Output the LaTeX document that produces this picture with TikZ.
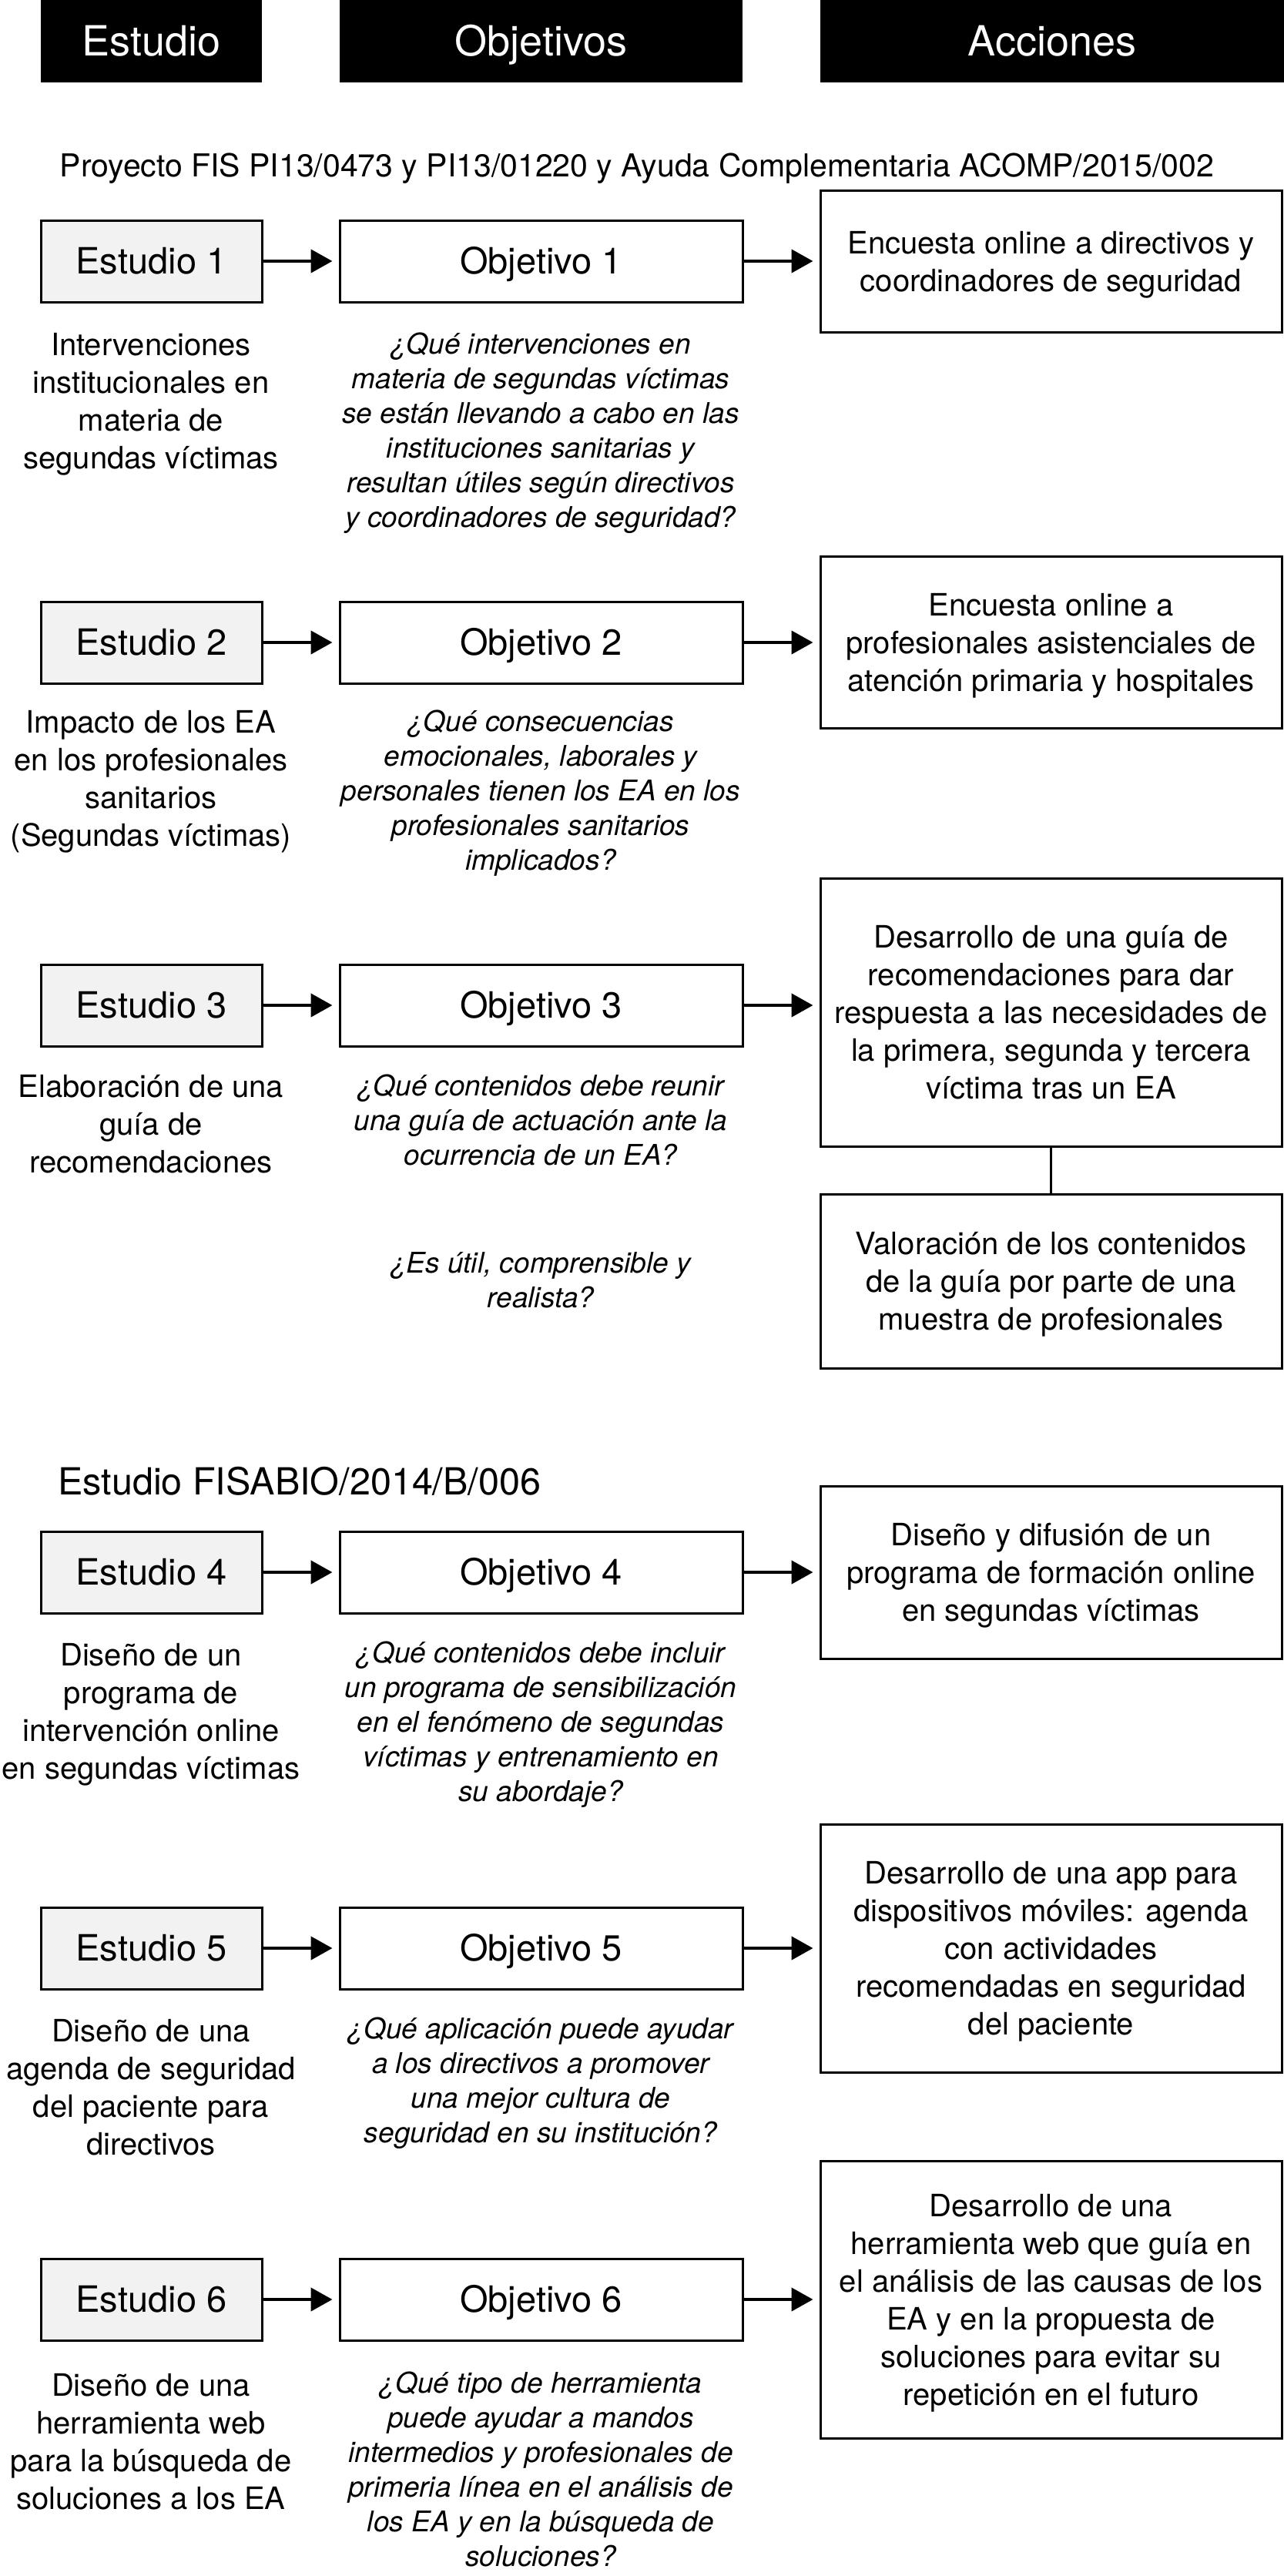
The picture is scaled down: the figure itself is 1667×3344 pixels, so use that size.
\documentclass[tikz,border=0pt]{standalone}
\usepackage{fontspec}
\setmainfont{TeX Gyre Heros}
\usetikzlibrary{arrows.meta}
\definecolor{estfill}{RGB}{242,242,242}
\tikzset{
 hdr/.style={fill=black, text=white, minimum height=107pt, inner sep=0pt, text height=38.5pt, text depth=0pt, font=\fontsize{54}{60}\selectfont},
 est/.style={draw, line width=3pt, fill=estfill, minimum width=287pt, minimum height=106pt, inner sep=0pt, text height=33.8pt, text depth=0pt, font=\fontsize{47}{56}\selectfont},
 obj/.style={draw, line width=3pt, fill=white, minimum width=523pt, minimum height=106pt, inner sep=0pt, text height=33.8pt, text depth=0pt, font=\fontsize{47}{56}\selectfont},
 act/.style={draw, line width=3pt, minimum width=599pt, align=center, inner sep=0pt, text depth=0pt, font=\fontsize{40}{49}\selectfont},
 desc/.style={align=center, anchor=north, inner sep=0pt, font=\fontsize{40}{49}\selectfont},
 ques/.style={align=center, anchor=north, inner sep=0pt, font=\fontsize{37}{45}\selectfont\itshape},
 sub/.style={inner sep=0pt},
 arr/.style={line width=4.5pt, -{Triangle[length=28pt,width=30pt]}, shorten >=8pt},
 link/.style={line width=3pt},
}
\begin{document}
\begin{tikzpicture}[x=1pt,y=-1pt]
\useasboundingbox (0,0) rectangle (1667,3344);
% headers
\node[hdr, minimum width=287pt] (h1) at (196.5,53.5) {Estudio};
\node[hdr, minimum width=523pt] (h2) at (702.5,53.5) {Objetivos};
\node[hdr, minimum width=602pt] (h3) at (1366,53.5) {Acciones};
% subtitle 1
\node[sub, font=\fontsize{41}{48}\selectfont] (s1) at (827,219) {Proyecto FIS PI13/0473 y PI13/01220 y Ayuda Complementaria ACOMP/2015/002};
% row 1
\node[est] (e1) at (196.5,339) {Estudio 1};
\node[obj] (o1) at (702.5,339) {Objetivo 1};
\node[act, minimum height=184pt] (a1) at (1364.5,339) {Encuesta online a directivos y\\coordinadores de seguridad};
\draw[arr] (e1.east) -- (o1.west);
\draw[arr] (o1.east) -- (o1.east -| a1.west);
\node[desc] (d1) at (196,432) {Intervenciones\\institucionales en\\materia de\\segundas víctimas};
\node[ques] (q1) at (702,432) {¿Qué intervenciones en\\materia de segundas víctimas\\se están llevando a cabo en las\\instituciones sanitarias y\\resultan útiles según directivos\\y coordinadores de seguridad?};
% row 2
\node[est] (e2) at (196.5,834) {Estudio 2};
\node[obj] (o2) at (702.5,834) {Objetivo 2};
\node[act, minimum height=223pt] (a2) at (1364.5,834) {Encuesta online a\\profesionales asistenciales de\\atención primaria y hospitales};
\draw[arr] (e2.east) -- (o2.west);
\draw[arr] (o2.east) -- (o2.east -| a2.west);
\node[desc] (d2) at (196,922) {Impacto de los EA\\en los profesionales\\sanitarios\\(Segundas víctimas)};
\node[ques] (q2) at (702,922) {¿Qué consecuencias\\emocionales, laborales y\\personales tienen los EA en los\\profesionales sanitarios\\implicados?};
% row 3
\node[est] (e3) at (196.5,1305) {Estudio 3};
\node[obj] (o3) at (702.5,1305) {Objetivo 3};
\node[act, minimum height=348pt] (a3) at (1364.5,1314) {Desarrollo de una guía de\\recomendaciones para dar\\respuesta a las necesidades de\\la primera, segunda y tercera\\víctima tras un EA};
\node[act, minimum height=226pt] (a3b) at (1364.5,1663) {Valoración de los contenidos\\de la guía por parte de una\\muestra de profesionales};
\draw[arr] (e3.east) -- (o3.west);
\draw[arr] (o3.east) -- (o3.east -| a3.west);
\draw[link] (a3.south) -- (a3b.north);
\node[desc] (d3) at (196,1395) {Elaboración de una\\guía de\\recomendaciones};
\node[ques] (q3) at (702,1395) {¿Qué contenidos debe reunir\\una guía de actuación ante la\\ocurrencia de un EA?};
\node[ques] (q3b) at (702,1625) {¿Es útil, comprensible y\\realista?};
% subtitle 2
\node[sub, anchor=west, font=\fontsize{48.5}{56}\selectfont] (s2) at (75,1923) {Estudio FISABIO/2014/B/006};
% row 4
\node[est] (e4) at (196.5,2041) {Estudio 4};
\node[obj] (o4) at (702.5,2041) {Objetivo 4};
\node[act, minimum height=224pt] (a4) at (1364.5,2041) {Diseño y difusión de un\\programa de formación online\\en segundas víctimas};
\draw[arr] (e4.east) -- (o4.west);
\draw[arr] (o4.east) -- (o4.east -| a4.west);
\node[desc] (d4) at (196,2133) {Diseño de un\\programa de\\intervención online\\en segundas víctimas};
\node[ques] (q4) at (702,2131) {¿Qué contenidos debe incluir\\un programa de sensibilización\\en el fenómeno de segundas\\víctimas y entrenamiento en\\su abordaje?};
% row 5
\node[est] (e5) at (196.5,2529) {Estudio 5};
\node[obj] (o5) at (702.5,2529) {Objetivo 5};
\node[act, minimum height=322pt] (a5) at (1364.5,2529) {Desarrollo de una app para\\dispositivos móviles: agenda\\con actividades\\recomendadas en seguridad\\del paciente};
\draw[arr] (e5.east) -- (o5.west);
\draw[arr] (o5.east) -- (o5.east -| a5.west);
\node[desc] (d5) at (196,2621) {Diseño de una\\agenda de seguridad\\del paciente para\\directivos};
\node[ques] (q5) at (702,2619) {¿Qué aplicación puede ayudar\\a los directivos a promover\\una mejor cultura de\\seguridad en su institución?};
% row 6
\node[est] (e6) at (196.5,2985) {Estudio 6};
\node[obj] (o6) at (702.5,2985) {Objetivo 6};
\node[act, minimum height=360pt] (a6) at (1364.5,2985) {Desarrollo de una\\herramienta web que guía en\\el análisis de las causas de los\\EA y en la propuesta de\\soluciones para evitar su\\repetición en el futuro};
\draw[arr] (e6.east) -- (o6.west);
\draw[arr] (o6.east) -- (o6.east -| a6.west);
\node[desc] (d6) at (196,3081) {Diseño de una\\herramienta web\\para la búsqueda de\\soluciones a los EA};
\node[ques] (q6) at (702,3079) {¿Qué tipo de herramienta\\puede ayudar a mandos\\intermedios y profesionales de\\primeria línea en el análisis de\\los EA y en la búsqueda de\\soluciones?};
\end{tikzpicture}
\end{document}
